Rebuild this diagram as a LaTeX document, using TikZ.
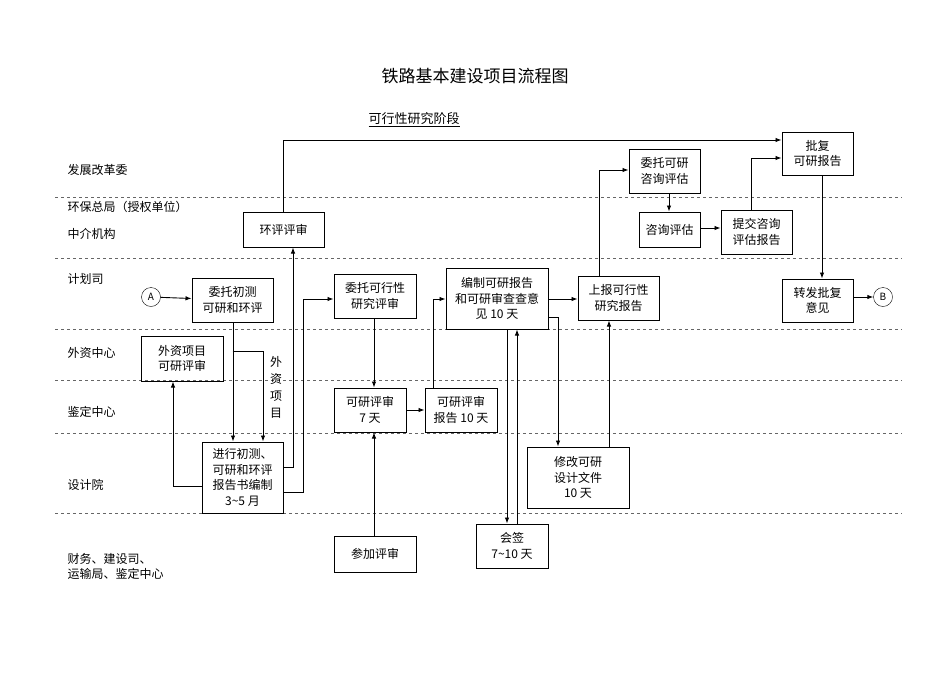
\documentclass[tikz,border=0pt]{standalone}
\usepackage{fontspec}
\setmainfont{Noto Sans CJK SC}
\usetikzlibrary{arrows.meta}
\begin{document}
\begin{tikzpicture}[x=1pt,y=-1pt,
  box/.style={draw,line width=1pt,align=center,inner sep=1pt,font=\fontsize{12}{15.5}\selectfont},
  lane/.style={anchor=west,font=\fontsize{12}{15}\selectfont},
  sep/.style={dashed,line width=0.6pt,gray!80!black},
  ar/.style={line width=0.9pt,-{Latex[length=6pt,width=4.5pt]}},
  circ/.style={draw,circle,minimum size=19pt,inner sep=0pt,font=\fontsize{10}{10}\selectfont}]
\useasboundingbox (0,0) rectangle (950,672);
\node[font=\fontsize{17}{20}\selectfont] (title) at (475,76) {铁路基本建设项目流程图};
\node[font=\fontsize{13}{15}\selectfont] (sub) at (414,120) {\underline{可行性研究阶段}};
\foreach \y in {197,258,329,380,433,513} \draw[sep] (55,\y) -- (902,\y);
\node[lane] (l1) at (64,170) {发展改革委};
\node[lane] (l2) at (64,207) {环保总局（授权单位）};
\node[lane] (l3) at (64,234) {中介机构};
\node[lane] (l4) at (64,279) {计划司};
\node[lane] (l5) at (64,353) {外资中心};
\node[lane] (l6) at (64,412) {鉴定中心};
\node[lane] (l7) at (64,485) {设计院};
\node[lane,align=left] (l8) at (64,566) {财务、建设司、\\运输局、鉴定中心};
% boxes
\node[box,minimum width=81pt,minimum height=35pt] (hp) at (283.5,229.5) {环评评审};
\node[box,minimum width=81pt,minimum height=44pt] (wt) at (232.5,300) {委托初测\\可研和环评};
\node[circ] (A) at (151,297) {A};
\node[box,minimum width=82pt,minimum height=45pt] (wz) at (182,358.5) {外资项目\\可研评审};
\node[box,minimum width=81pt,minimum height=71pt] (jx) at (242.5,477.5) {进行初测、\\可研和环评\\报告书编制\\3\textasciitilde5 月};
\node[font=\fontsize{12}{17}\selectfont,align=center] (wzxm) at (276,387) {外\\资\\项\\目};
\node[box,minimum width=82pt,minimum height=44pt] (wk) at (375,296) {委托可行性\\研究评审};
\node[box,minimum width=72pt,minimum height=44pt] (ky) at (370,410) {可研评审\\7 天};
\node[box,minimum width=82pt,minimum height=36pt] (cj) at (375,554) {参加评审};
\node[box,minimum width=72pt,minimum height=44pt] (kb) at (461,410) {可研评审\\报告 10 天};
\node[box,minimum width=102pt,minimum height=61pt] (bz) at (497,298.5) {编制可研报告\\和可研审查查意\\见 10 天};
\node[box,minimum width=81pt,minimum height=44pt] (sb) at (618.5,298) {上报可行性\\研究报告};
\node[box,minimum width=71pt,minimum height=44pt] (wz2) at (664.5,171) {委托可研\\咨询评估};
\node[box,minimum width=61pt,minimum height=35pt] (zx) at (669.5,229.5) {咨询评估};
\node[box,minimum width=71pt,minimum height=44pt] (tj) at (756.5,232) {提交咨询\\评估报告};
\node[box,minimum width=71pt,minimum height=43pt] (pf) at (817.5,153.5) {批复\\可研报告};
\node[box,minimum width=71pt,minimum height=43pt] (zf) at (817.5,300.5) {转发批复\\意见};
\node[circ] (B) at (883,297) {B};
\node[box,minimum width=102pt,minimum height=61pt] (xg) at (578,477.5) {修改可研\\设计文件\\10 天};
\node[box,minimum width=72pt,minimum height=44pt] (hq) at (512,546) {会签\\7\textasciitilde10 天};
% connectors
\draw[ar] (A) -- (wt);
\draw[ar] (wt.south -| 233,0) -- (jx.north -| 233,0);
\draw[ar] (wt.south |- 0,351) -| (jx.north -| 263,0);
\draw[ar] (jx.west |- 0,486) -| (wz.south -| 173,0);
\draw[ar] (jx.east |- 0,467) -| (hp.south -| 293,0);
\draw[ar] (jx.east |- 0,492) -| (303,299) -- (wk.west |- 0,299);
\draw[ar] (hp.north -| 283,0) |- (pf.west |- 0,140);
\draw[ar] (wk.south -| 374,0) -- (ky.north -| 374,0);
\draw[ar] (cj.north -| 374,0) -- (ky.south -| 374,0);
\draw[ar] (ky.east) -- (kb.west |- ky.east);
\draw[ar] (kb.north -| 433,0) |- (bz.west |- 0,299);
\draw[ar] (bz.east |- 0,299) -- (sb.west |- 0,299);
\draw[ar] (bz.east |- 0,317) -| (xg.north -| 558,0);
\draw[ar] (bz.south -| 507,0) -- (hq.north -| 507,0);
\draw[ar] (hq.north -| 517,0) -- (bz.south -| 517,0);
\draw[ar] (xg.north -| 609,0) -- (sb.south -| 609,0);
\draw[ar] (sb.north -| 599,0) |- (wz2.west |- 0,170);
\draw[ar] (wz2.south -| 669,0) -- (zx.north -| 669,0);
\draw[ar] (zx.east |- 0,228) -- (tj.west |- 0,228);
\draw[ar] (tj.north -| 751,0) |- (pf.west |- 0,158);
\draw[ar] (pf.south -| 822,0) -- (zf.north -| 822,0);
\draw[ar] (zf.east |- B) -- (B);
\end{tikzpicture}
\end{document}
